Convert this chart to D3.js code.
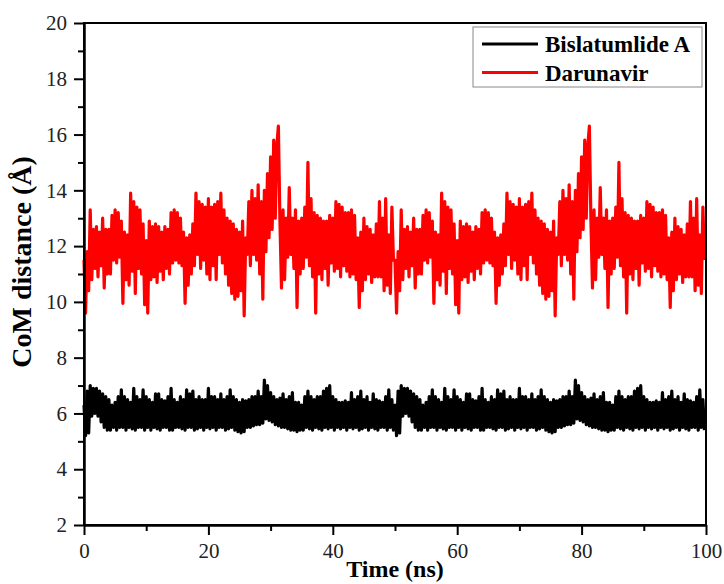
<!DOCTYPE html>
<html lang="en">
<head>
    <meta charset="UTF-8">
    <title>CoM distance</title>
    <script src="https://d3js.org/d3.v7.min.js"></script>
    <style>
        body { margin: 0; background: #fff; }
        .axis path, .axis line { stroke: #000; stroke-width: 2px; }
        .title { font-family: "Liberation Serif", "Times New Roman", serif; font-weight: bold; fill: #000; }
        .legend text { font-family: "Liberation Serif", "Times New Roman", serif; font-weight: bold; font-size: 23px; }
    </style>
</head>
<body>
    <svg id="chart" width="724" height="584"></svg>
    <script>
        // values read every 0.25 ns for the first 50 ns; the trajectory in the picture repeats after 50 ns
        const step = 0.25;
        const period = 50;

        const bislatumlide = [
            6.3, 5.2, 6.8, 5.3,   7.0, 5.9, 6.9, 6.0,   6.9, 5.9, 6.8, 5.7,   6.7, 5.5, 6.6, 5.4,
            6.5, 5.4, 6.3, 5.5,   6.4, 5.4, 6.6, 5.5,   6.85, 5.5, 6.6, 5.4,  6.5, 5.5, 6.4, 5.45,
            6.9, 5.4, 6.6, 5.5,   6.5, 5.5, 6.85, 5.4,  6.6, 5.5, 6.5, 5.4,   6.4, 5.5, 6.7, 5.45,
            6.7, 5.4, 6.5, 5.5,   6.45, 5.5, 6.6, 5.4,  6.9, 5.4, 6.5, 5.5,   6.4, 5.5, 6.6, 5.45,
            6.5, 5.4, 6.85, 5.5,  6.7, 5.5, 6.8, 5.4,   6.5, 5.45, 6.6, 5.5,  6.5, 5.4, 6.5, 5.5,
            6.9, 5.45, 6.6, 5.5,  6.6, 5.4, 6.5, 5.5,   6.7, 5.5, 6.5, 5.4,   6.6, 5.45, 6.85, 5.5,
            6.6, 5.4, 6.5, 5.35,  6.4, 5.3, 6.5, 5.35,  6.45, 5.5, 6.5, 5.5,  6.6, 5.55, 6.6, 5.6,
            6.8, 5.6, 6.6, 5.65,  7.2, 5.8, 7.0, 5.75,  6.75, 5.7, 6.6, 5.6,  6.5, 5.55, 6.55, 5.5,
            6.7, 5.5, 6.5, 5.45,  6.6, 5.4, 6.75, 5.4,  6.4, 5.35, 6.4, 5.4,  6.3, 5.4, 6.6, 5.5,
            6.8, 5.45, 6.6, 5.4,  6.5, 5.5, 6.6, 5.45,  6.6, 5.4, 6.8, 5.5,   6.9, 5.45, 7.0, 5.5,
            6.6, 5.4, 6.5, 5.5,   6.4, 5.45, 6.4, 5.5,  6.45, 5.4, 6.4, 5.5,  6.75, 5.45, 6.5, 5.5,
            6.6, 5.4, 6.8, 5.45,  6.5, 5.5, 6.6, 5.4,   6.4, 5.5, 6.7, 5.45,  6.5, 5.4, 6.45, 5.5,
            6.4, 5.5, 6.6, 5.4,   6.85, 5.5, 6.5, 5.4
        ];

        const darunavir = [
            11.5, 9.6, 11.8, 10.4,   13.3, 10.8, 12.6, 11.2,  12.7, 10.9, 12.5, 11.3,  13.0, 10.5, 12.6, 11.0,
            12.6, 11.0, 13.1, 11.5,  13.3, 11.4, 13.2, 11.6,  12.9, 9.95, 12.5, 10.8,  12.4, 10.6, 13.9, 11.1,
            13.6, 10.3, 13.4, 11.2,  13.3, 11.0, 12.8, 9.9,   12.2, 9.6, 12.9, 10.8,   12.7, 10.9, 12.8, 10.7,
            12.7, 11.1, 12.5, 10.8,  12.7, 11.2, 12.6, 11.0,  13.2, 11.4, 13.3, 11.5,  13.2, 11.4, 13.0, 11.3,
            12.5, 9.95, 12.3, 10.6,  12.4, 11.0, 12.8, 11.3,  13.9, 11.7, 13.6, 11.2,  13.5, 11.5, 13.4, 11.0,
            13.7, 10.8, 13.4, 11.3,  13.5, 10.8, 13.6, 11.7,  13.9, 11.4, 13.3, 11.0,  13.0, 10.6, 12.9, 10.3,
            12.8, 10.1, 12.6, 10.2,  12.5, 10.4, 12.9, 9.5,   12.3, 11.7, 13.6, 11.3,  14.0, 11.7, 13.7, 11.5,
            14.2, 11.0, 13.6, 10.1,  14.0, 11.8, 14.6, 12.3,  15.2, 12.6, 15.8, 13.0,  15.6, 16.3, 12.9, 10.5,
            13.3, 10.8, 13.0, 11.6,  14.1, 11.7, 13.0, 11.2,  13.3, 9.8, 12.9, 11.0,   13.0, 11.2, 13.4, 11.6,
            15.0, 11.3, 13.7, 10.9,  13.2, 9.6, 13.1, 11.0,   13.0, 10.8, 12.9, 11.2,  12.9, 10.6, 13.1, 11.4,
            13.0, 11.1, 13.6, 11.2,  13.5, 10.9, 13.4, 11.3,  13.2, 11.1, 13.2, 10.9,  13.3, 11.0, 13.1, 10.8,
            12.3, 9.8, 12.5, 10.4,   13.0, 10.8, 12.7, 11.0,  12.6, 10.7, 12.4, 10.9,  12.8, 10.9, 13.6, 10.9,
            13.0, 10.4, 13.7, 10.6,  12.4, 10.3, 13.4, 11.5
        ];

        const seriesNames = ["Bislatumlide A", "Darunavir"];
        const seriesColors = ["#000000", "#ff0000"];
        const xTicks = [0, 20, 40, 60, 80, 100];
        const yTicks = [2, 4, 6, 8, 10, 12, 14, 16, 18, 20];

        function toPoints(values) {
            const pts = [];
            for (let rep = 0; rep < 2; rep++) {
                values.forEach((v, i) => pts.push({ t: rep * period + i * step, v: v }));
            }
            return pts;
        }

        const series = [toPoints(bislatumlide), toPoints(darunavir)];

        const width = 724, height = 584;
        const margin = { top: 23, right: 18, bottom: 59, left: 84 };
        const w = width - margin.left - margin.right;
        const h = height - margin.top - margin.bottom;

        const svg = d3.select("#chart");
        const g = svg.append("g").attr("transform", `translate(${margin.left},${margin.top})`);

        const x = d3.scaleLinear().domain([0, 100]).range([0, w]);
        const y = d3.scaleLinear().domain([2, 20]).range([h, 0]);

        const line = d3.line().x(d => x(d.t)).y(d => y(d.v));

        g.selectAll(".series")
            .data(series)
            .enter().append("path")
            .attr("class", "series")
            .attr("d", line)
            .attr("fill", "none")
            .attr("stroke", (d, i) => seriesColors[i])
            .attr("stroke-width", 3.2)
            .attr("stroke-linejoin", "round");

        // minor ticks
        g.append("g").attr("class", "axis")
            .attr("transform", `translate(0,${h})`)
            .call(d3.axisBottom(x).tickValues([10, 30, 50, 70, 90]).tickSize(6).tickSizeOuter(0).tickFormat(""));
        g.append("g").attr("class", "axis")
            .call(d3.axisLeft(y).tickValues([3, 5, 7, 9, 11, 13, 15, 17, 19]).tickSize(6).tickSizeOuter(0).tickFormat(""));

        const xAxis = g.append("g").attr("class", "axis")
            .attr("transform", `translate(0,${h})`)
            .call(d3.axisBottom(x).tickValues(xTicks).tickSize(10).tickSizeOuter(0).tickPadding(8));
        const yAxis = g.append("g").attr("class", "axis")
            .call(d3.axisLeft(y).tickValues(yTicks).tickSize(10).tickSizeOuter(0).tickPadding(7));

        [xAxis, yAxis].forEach(a => a.selectAll("text")
            .style("font-family", "'Liberation Serif', 'Times New Roman', serif")
            .style("font-size", "21px")
            .attr("fill", "#222"));

        // frame
        g.append("rect")
            .attr("width", w).attr("height", h)
            .attr("fill", "none").attr("stroke", "#000").attr("stroke-width", 2);

        svg.append("text").attr("class", "title")
            .attr("x", margin.left + w / 2).attr("y", 577)
            .attr("text-anchor", "middle").attr("font-size", 24)
            .text("Time (ns)");

        svg.append("text").attr("class", "title")
            .attr("transform", `translate(31,262) rotate(-90)`)
            .attr("text-anchor", "middle").attr("font-size", 28)
            .text("CoM distance (Å)");

        // legend
        const legend = svg.append("g").attr("class", "legend");
        legend.append("rect")
            .attr("x", 473).attr("y", 27).attr("width", 229).attr("height", 60)
            .attr("fill", "#fff").attr("stroke", "#888").attr("stroke-width", 1);
        seriesNames.forEach((name, i) => {
            const ly = 44 + i * 28.5;
            legend.append("line")
                .attr("x1", 482).attr("x2", 538).attr("y1", ly).attr("y2", ly)
                .attr("stroke", seriesColors[i]).attr("stroke-width", 3);
            legend.append("text")
                .attr("x", 545).attr("y", ly + 8)
                .attr("fill", "#000")
                .text(name);
        });
    </script>
</body>
</html>
